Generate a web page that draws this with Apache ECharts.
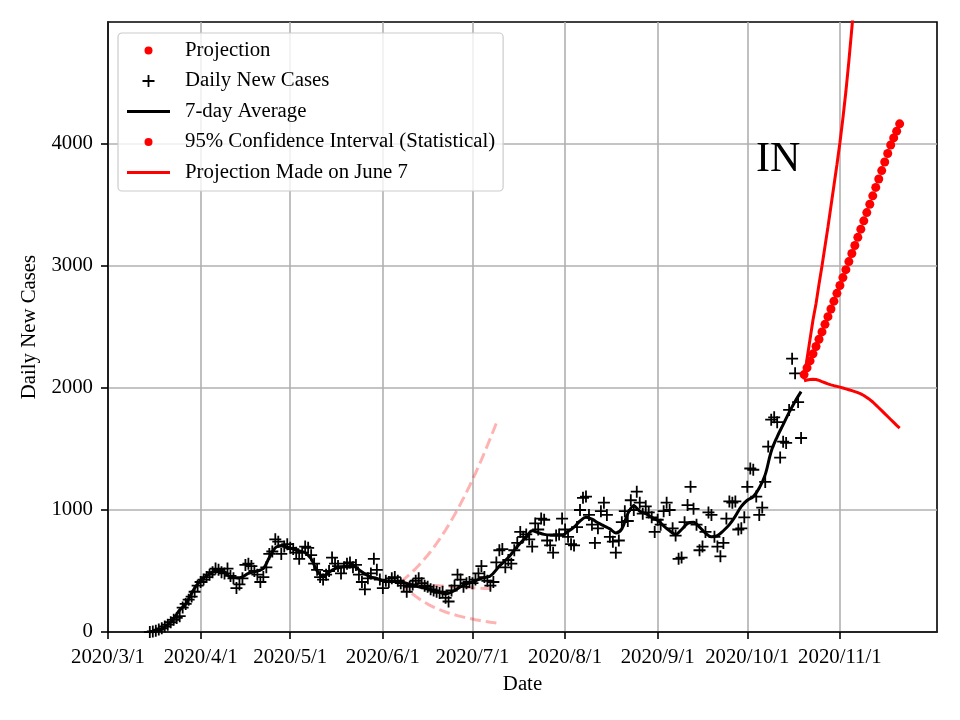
<!DOCTYPE html>
<html><head><meta charset="utf-8">
<script src="https://cdn.jsdelivr.net/npm/echarts@6/dist/echarts.min.js"></script>
<style>html,body{margin:0;padding:0;background:#fff}#c{width:960px;height:720px}</style>
</head><body><div id="c"></div>
<script>
const FONT = '"Liberation Serif","DejaVu Serif","Times New Roman",serif';
const FS = 20.8;
const originDate = '2020-03-01';
const tickDates = ['2020-03-01','2020-04-01','2020-05-01','2020-06-01','2020-07-01','2020-08-01','2020-09-01','2020-10-01','2020-11-01'];
const yTicks = [0, 1000, 2000, 3000, 4000];

// Daily new cases, one value per day starting 2020-03-15
const dailyStart = '2020-03-15';
const dailyCases = [
  0,5,10,20,30,45,60,80,100,115,130,200,230,265,290,330,380,410,430,450,
  470,490,520,510,490,480,520,460,440,360,390,440,550,560,540,500,470,410,450,530,
  640,660,760,740,640,700,720,690,680,650,
  600,650,700,690,630,560,510,450,430,470,500,610,560,540,480,530,560,570,530,550,
  470,410,350,440,480,600,510,430,360,420,410,440,450,420,400,380,330,370,390,420,
  440,400,380,370,350,340,330,320,330,280,250,340,380,470,430,370,400,
  410,400,430,480,540,450,420,380,410,570,670,680,530,590,560,670,730,820,780,800,
  760,700,890,840,930,920,750,710,650,790,800,930,840,780,720,710,860,1000,1100,1110,
  960,880,730,850,990,1060,960,780,740,650,750,900,990,910,1080,1000,1150,1060,970,1030,
  980,940,820,920,880,
  990,1060,1000,850,790,600,610,900,1040,1190,1010,880,670,700,820,980,960,780,700,620,
  730,930,1070,1060,1070,840,850,940,1190,1340,1330,1110,960,1020,1230,1520,1740,1760,1720,1430,
  1560,1550,1820,2240,2120,1885,1590
];

// 7-day average (day offset from 2020-03-01, value)
const avgDays = [14,16,18,20,22,24,26,29,31,33,35,37,39,41,44,47,50,52,54,56,58,60,62,64,66,68,70,72,74,76,78,80,82,84,86,88,90,92,95,98,101,104,107,110,113,116,119,122,125,128,131,134,137,140,142,144,146,148,150,152,154,156,158,160,162,164,166,168,170,172,174,176,178,180,182,184,186,188,190,192,194,196,198,200,202,204,206,208,210,212,214,216,218,220,222,224,226,228,230,232];
const avgValues = [0,8,25,60,110,180,230,360,420,460,490,505,490,450,445,480,500,520,610,690,710,695,680,665,650,600,500,455,490,520,530,540,545,510,475,450,440,420,415,410,390,370,355,335,312,340,385,410,440,460,540,610,700,780,830,815,800,795,795,795,825,860,910,940,925,895,870,845,812,845,970,1035,990,970,940,915,870,830,800,840,890,900,860,810,780,790,830,880,950,1030,1080,1110,1180,1290,1480,1600,1700,1800,1890,1970];

// Projection (one value per day starting 2020-10-20)
const projStart = '2020-10-20';
const projection = [2110,2165,2222,2280,2340,2400,2460,2522,2585,2648,2712,2776,2840,2905,2970,3036,3102,3168,3235,3302,3370,3438,3506,3575,3644,3713,3782,3852,3922,3992,4050,4105,4165];

// 95% confidence interval bounds (drawn as red lines), daily from 2020-10-20
const ciUpper = [2070,2240,2400,2560,2690,2850,3000,3160,3320,3490,3660,3830,4010,4210,4430,4680,4950,5230,5520];
const ciLower = [2060,2066,2070,2072,2070,2062,2052,2043,2034,2026,2019,2013,2007,2000,1993,1986,1978,1970,1962,1952,1938,1922,1905,1885,1862,1838,1814,1790,1766,1742,1718,1694,1672];

// Projection made on June 7 (pink dashed), daily from 2020-06-07
const juneStart = '2020-06-07';
const juneUpper = [410,430,451,473,496,520,545,572,600,629,660,692,726,761,798,836,876,917,960,1004,1050,1097,1146,1196,1248,1301,1356,1412,1470,1529,1589,1650,1712];
const juneMid = [410,405,401,398,395,393,391,389,387,385,384,382,381,379,378,376,375,373,372,370,369,367,366,364,363,361,360,358,357,356,355,353,352];
const juneLower = [410,380,355,332,311,292,274,258,243,229,216,204,193,183,173,164,156,148,141,134,128,122,116,111,106,101,97,92,88,84,80,77,73];

const DAY = 86400000;
const t0 = Date.parse(originDate + 'T00:00:00Z');
function dayOf(s) { return (Date.parse(s + 'T00:00:00Z') - t0) / DAY; }
function fmtDay(v) {
  const d = new Date(t0 + Math.round(v) * DAY);
  return d.getUTCFullYear() + '/' + (d.getUTCMonth() + 1) + '/' + d.getUTCDate();
}
function pairs(startStr, arr) { const s = dayOf(startStr); return arr.map((v, i) => [s + i, v]); }
const tickDays = tickDates.map(dayOf);

const plusSym = 'path://M5.1,0h1.8v12h-1.8zM0,5.1h12v1.8h-12z';
const plusIcon = 'path://M-1,-1M13,13M5.1,0h1.8v12h-1.8zM0,5.1h12v1.8h-12z';
const dotIcon = 'path://M0,0M14,14M3,7a4,4 0 1,0 8,0a4,4 0 1,0 -8,0z';
const lineIcon = 'path://M0,0h43v3h-43z';

const axisCommon = {
  axisLine: { show: true, onZero: false, lineStyle: { color: '#000', width: 1.6 } },
  axisTick: { show: true, inside: false, length: 7, lineStyle: { color: '#000', width: 1.6 } },
  splitLine: { show: true, lineStyle: { color: '#b0b0b0', width: 1.6 } },
  nameTextStyle: { fontFamily: FONT, fontSize: FS, color: '#000' }
};

const chart = echarts.init(document.getElementById('c'), null, { renderer: 'canvas' });
chart.setOption({
  animation: false,
  backgroundColor: '#fff',
  textStyle: { fontFamily: FONT },
  title: { text: 'IN', left: 756, top: 139, padding: 0,
    textStyle: { fontFamily: FONT, fontSize: 42, fontWeight: 'normal', color: '#000' } },
  grid: { left: 108, right: 23, top: 22, bottom: 88, show: true, borderColor: '#000', borderWidth: 1.6, backgroundColor: 'transparent' },
  xAxis: Object.assign({}, axisCommon, {
    type: 'value', min: 0, max: 277.5,
    name: 'Date', nameLocation: 'middle', nameGap: 42,
    axisTick: Object.assign({}, axisCommon.axisTick, { customValues: tickDays }),
    axisLabel: { customValues: tickDays, formatter: fmtDay, margin: 15, fontFamily: FONT, fontSize: FS, color: '#000' }
  }),
  yAxis: Object.assign({}, axisCommon, {
    type: 'value', min: 0, max: 5000,
    name: 'Daily New Cases', nameLocation: 'middle', nameGap: 57, nameRotate: 90,
    axisTick: Object.assign({}, axisCommon.axisTick, { customValues: yTicks }),
    axisLabel: { customValues: yTicks, formatter: v => String(v), margin: 15, fontFamily: FONT, fontSize: FS, color: '#000' }
  }),
  legend: {
    orient: 'vertical', left: 118, top: 33, padding: [7, 8, 8, 9],
    itemWidth: 43, itemHeight: 14, itemGap: 9.5,
    backgroundColor: 'rgba(255,255,255,0.8)', borderColor: '#cccccc', borderWidth: 1.2, borderRadius: 4,
    textStyle: { fontFamily: FONT, fontSize: FS, color: '#000', lineHeight: 20, padding: [0, 0, 0, 10] },
    data: [
      { name: 'Projection', icon: dotIcon },
      { name: 'Daily New Cases', icon: plusIcon },
      { name: '7-day Average', icon: lineIcon },
      { name: '95% Confidence Interval (Statistical)', icon: dotIcon },
      { name: 'Projection Made on June 7', icon: lineIcon }
    ]
  },
  series: [
    { name: 'June7 upper', type: 'line', data: pairs(juneStart, juneUpper), symbol: 'none', silent: true,
      lineStyle: { color: 'rgba(255,0,0,0.3)', width: 3, type: [11, 5] }, z: 3 },
    { name: 'June7 mid', type: 'line', data: pairs(juneStart, juneMid), symbol: 'none', silent: true,
      lineStyle: { color: 'rgba(255,0,0,0.3)', width: 3, type: [11, 5] }, z: 3 },
    { name: 'June7 lower', type: 'line', data: pairs(juneStart, juneLower), symbol: 'none', silent: true,
      lineStyle: { color: 'rgba(255,0,0,0.3)', width: 3, type: [11, 5] }, z: 3 },
    { name: 'Daily New Cases', type: 'scatter', data: pairs(dailyStart, dailyCases), symbol: plusSym, symbolSize: 12,
      itemStyle: { color: '#000', opacity: 1 }, z: 4 },
    { name: '7-day Average', type: 'line', data: avgDays.map((d, i) => [d, avgValues[i]]), symbol: 'none', smooth: 0.35,
      itemStyle: { color: '#000' }, lineStyle: { color: '#000', width: 3 }, z: 5 },
    { name: 'Projection Made on June 7', type: 'line', data: pairs(projStart, ciUpper), symbol: 'none', clip: true,
      itemStyle: { color: '#ff0000' }, lineStyle: { color: '#ff0000', width: 3 }, z: 6 },
    { name: 'Projection Made on June 7', type: 'line', data: pairs(projStart, ciLower), symbol: 'none', clip: true,
      itemStyle: { color: '#ff0000' }, lineStyle: { color: '#ff0000', width: 3 }, z: 6 },
    { name: 'Projection', type: 'scatter', data: pairs(projStart, projection), symbol: 'circle', symbolSize: 9,
      itemStyle: { color: '#ff0000', opacity: 1 }, z: 7 },
    { name: '95% Confidence Interval (Statistical)', type: 'scatter', data: [], symbol: 'circle', symbolSize: 9,
      itemStyle: { color: '#ff0000', opacity: 1 } }
  ]
});
</script>
</body></html>
